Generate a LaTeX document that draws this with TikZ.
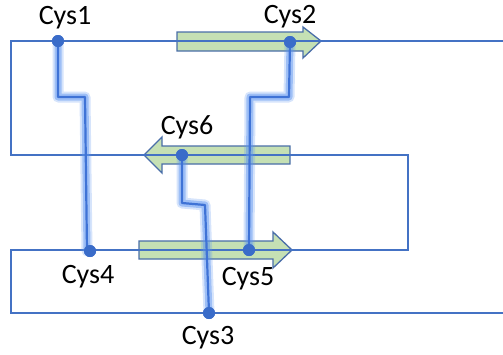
\documentclass[tikz,border=0pt]{standalone}
\usepackage{fontspec}
\setmainfont{Carlito}
\begin{document}
\begin{tikzpicture}[x=1pt,y=-1pt,
  strand/.style={draw=strandblue,line width=1.8pt},
  sheet/.style={draw=sheetedge,fill=sheetgreen,line width=1.3pt,line join=miter},
  glowa/.style={draw=glowblue,line width=11pt,opacity=0.25,line join=round,line cap=round},
  glowb/.style={draw=glowblue,line width=7pt,opacity=0.45,line join=round,line cap=round},
  core/.style={draw=coreblue,line width=2.2pt,line join=round,line cap=round},
  cys/.style={circle,fill=dotblue,inner sep=0pt,minimum size=12pt},
  lab/.style={font=\fontsize{28}{30}\selectfont,text=black,inner sep=0pt}]
\definecolor{strandblue}{HTML}{4472C4}
\definecolor{sheetedge}{HTML}{4A6EA8}
\definecolor{sheetgreen}{HTML}{C5E0B4}
\definecolor{glowblue}{HTML}{5A93F0}
\definecolor{coreblue}{HTML}{3F73D6}
\definecolor{dotblue}{HTML}{3A6CC9}
\useasboundingbox (0,0) rectangle (503,354);
% beta strand arrows
\draw[sheet] (177,32) -- (303,32) -- (303,27) -- (321,41) -- (303,58) -- (303,51) -- (177,51) -- cycle;
\draw[sheet] (290,146) -- (162,146) -- (162,137) -- (144,155) -- (162,173) -- (162,164) -- (290,164) -- cycle;
\draw[sheet] (139,241) -- (273,241) -- (273,232) -- (292,250) -- (273,268) -- (273,259) -- (139,259) -- cycle;
% backbone
\coordinate (tr) at (503,41);
\coordinate (br) at (503,313);
\draw[strand] (tr) -- (11,41) -- (11,155) -- (408,155) -- (408,250) -- (11,250) -- (11,313) -- (br);
% cysteines
\node[cys] (c1) at (58,41) {};
\node[cys] (c2) at (290,42) {};
\node[cys] (c6) at (182,155) {};
\node[cys] (c4) at (90,251) {};
\node[cys] (c5) at (249,250) {};
\node[cys] (c3) at (209,313) {};
% disulfide bonds
\foreach \s in {glowa,glowb,core}{
  \draw[\s] (c1.center) -- (58,97) -- (85,97) -- (87,251) -- (c4.center);
  \draw[\s] (c2.center) -- (289,97) -- (250,97) -- (c5.center);
  \draw[\s] (c6.center) -- (182,203) -- (205,205) -- (c3.center);
}
\node[cys] at (c1) {};
\node[cys] at (c2) {};
\node[cys] at (c6) {};
\node[cys] at (c4) {};
\node[cys] at (c5) {};
\node[cys] at (c3) {};
% labels
\node[lab] (l1) at (65,18) {Cys1};
\node[lab] (l2) at (290,17) {Cys2};
\node[lab] (l6) at (187,127) {Cys6};
\node[lab] (l4) at (88,277) {Cys4};
\node[lab] (l5) at (248,279) {Cys5};
\node[lab] (l3) at (208,338) {Cys3};
\end{tikzpicture}
\end{document}
